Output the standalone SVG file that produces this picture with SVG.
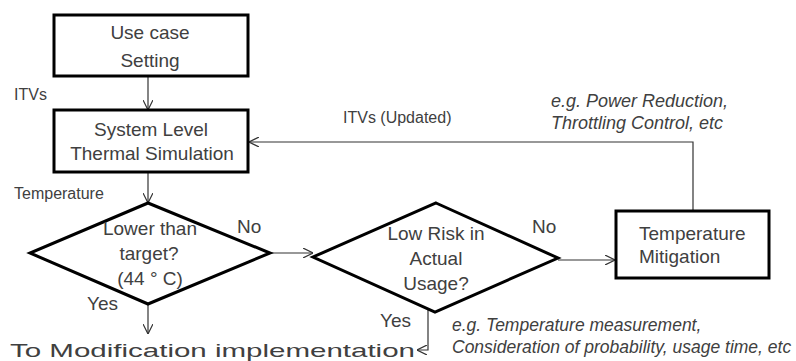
<svg xmlns="http://www.w3.org/2000/svg" width="796" height="361" viewBox="0 0 796 361">
<defs>
<style>
.node{fill:#fff;stroke:#000;stroke-width:3}
.nt{font-family:"Liberation Sans",Arial,sans-serif;font-size:19px;fill:#404040;text-anchor:middle}
.lt{font-family:"Liberation Sans",Arial,sans-serif;font-size:19px;fill:#404040}
.sm{font-family:"Liberation Sans",Arial,sans-serif;font-size:16px;fill:#404040}
.it{font-family:"Liberation Sans",Arial,sans-serif;font-style:italic;fill:#404040}
.c{fill:none;stroke:#333;stroke-width:1.2}
</style>
<marker id="ah" viewBox="0 0 10 10" refX="10" refY="5" markerWidth="10" markerHeight="10" markerUnits="userSpaceOnUse" orient="auto">
<path d="M0,0 L10,5 L0,10" fill="none" stroke="#333" stroke-width="1.2"/>
</marker>
</defs>
<rect width="796" height="361" fill="#fff"/>

<g id="connectors">
<line class="c" x1="148" y1="76" x2="148" y2="110" marker-end="url(#ah)"/>
<line class="c" x1="148" y1="172" x2="148" y2="203" marker-end="url(#ah)"/>
<line class="c" x1="270" y1="253" x2="313" y2="253" marker-end="url(#ah)"/>
<line class="c" x1="558" y1="260" x2="615" y2="260" marker-end="url(#ah)"/>
<polyline class="c" points="693,210 693,142 249,142" marker-end="url(#ah)"/>
<line class="c" x1="148" y1="304" x2="148" y2="334" marker-end="url(#ah)"/>
<polyline class="c" points="428,309 428,350 417,350" marker-end="url(#ah)"/>
</g>

<g id="use-case">
<rect class="node" x="54" y="15" width="194" height="61"/>
<text class="nt" x="150" y="39">Use case</text>
<text class="nt" x="150" y="67">Setting</text>
</g>

<g id="simulation">
<rect class="node" x="54" y="110" width="194" height="62"/>
<text class="nt" x="151" y="136">System Level</text>
<text class="nt" x="152" y="160">Thermal Simulation</text>
</g>

<g id="decision-target">
<polygon class="node" points="148,203 270,253 148,304 30,253"/>
<text class="nt" x="150" y="235">Lower than</text>
<text class="nt" x="149" y="260">target?</text>
<text class="nt" x="150" y="285">(44 ° C)</text>
</g>

<g id="decision-risk">
<polygon class="node" points="436,203 558,258 435,312 313,257"/>
<text class="nt" x="436" y="240">Low Risk in</text>
<text class="nt" x="436" y="265">Actual</text>
<text class="nt" x="436" y="290">Usage?</text>
</g>

<g id="mitigation">
<rect class="node" x="616" y="211" width="153" height="67"/>
<text class="lt" x="639" y="240">Temperature</text>
<text class="lt" x="639" y="263">Mitigation</text>
</g>

<g id="labels">
<text class="sm" x="14" y="100">ITVs</text>
<text class="sm" x="14" y="199">Temperature</text>
<text class="sm" x="343" y="123">ITVs (Updated)</text>
<text class="lt" x="237" y="233">No</text>
<text class="lt" x="532" y="233">No</text>
<text class="lt" x="87" y="310">Yes</text>
<text class="lt" x="380" y="327">Yes</text>
<text class="it" x="551" y="107" font-size="18">e.g. Power Reduction,</text>
<text class="it" x="551" y="129" font-size="18">Throttling Control, etc</text>
<text class="it" x="452" y="331" font-size="17.5">e.g. Temperature measurement,</text>
<text class="it" x="452" y="353" font-size="17.5">Consideration of probability, usage time, etc</text>
<text class="lt" x="10" y="357" font-size="26.5" textLength="405" lengthAdjust="spacingAndGlyphs">To Modification implementation</text>
</g>
</svg>
